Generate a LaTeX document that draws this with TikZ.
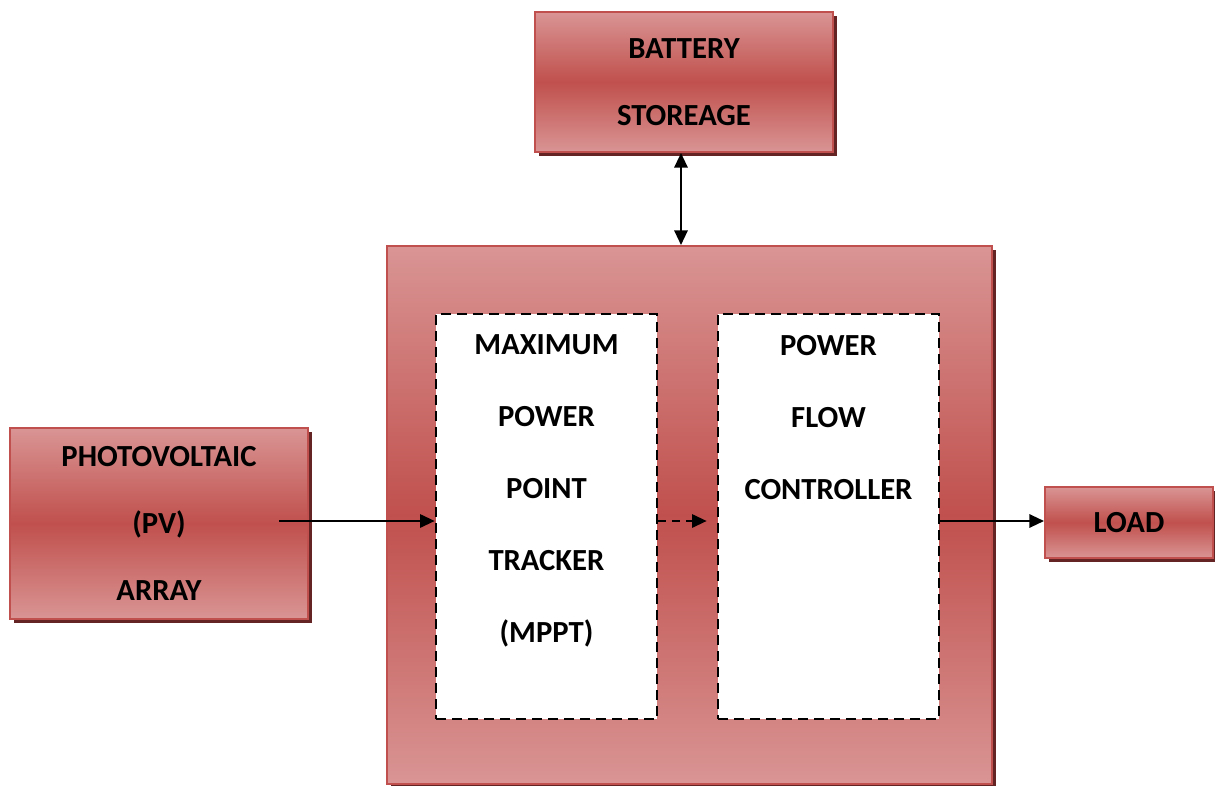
\documentclass[tikz,border=0pt]{standalone}
\usepackage{fontspec}
\setmainfont{Carlito}
\usetikzlibrary{positioning,shadows,arrows.meta}
\definecolor{boxtop}{HTML}{D99594}
\definecolor{boxmid}{HTML}{C0504D}
\definecolor{boxline}{HTML}{C0504D}
\definecolor{boxshadow}{HTML}{632423}

\begin{document}
\begin{tikzpicture}[x=0.75pt,y=-0.75pt,
    block/.style={draw=boxline, line width=1.5pt, top color=boxtop, bottom color=boxtop, middle color=boxmid,
      drop shadow={fill=boxshadow, opacity=1, shadow xshift=3pt, shadow yshift=-3pt},
      align=center, font=\fontsize{23}{50}\selectfont\bfseries, inner sep=0pt},
    innerblock/.style={draw=black, fill=white, line width=2pt, dash pattern=on 7.5pt off 4.5pt,
      minimum width=165.75pt, minimum height=303.75pt, inner sep=0pt},
    blocktext/.style={align=center, font=\fontsize{23}{54}\selectfont\bfseries, inner sep=0pt},
    flow/.style={line width=1.6pt, -{Triangle[length=11pt,width=10pt]}}]
    \useasboundingbox (0,0) rectangle (1215,786);
    % outer blocks
    \node (battery) [block, minimum width=223.5pt, minimum height=105pt] at (684,82) {BATTERY\\STOREAGE};
    \node (pv) [block, minimum width=223.5pt, minimum height=143.25pt] at (159,523.5) {PHOTOVOLTAIC\\(PV)\\ARRAY};
    \node (load) [block, minimum width=126pt, minimum height=53.25pt] at (1129,522.5) {LOAD};
    \node (unit) [block, minimum width=453.75pt, minimum height=403.5pt] at (689.5,515) {};
    % inner blocks
    \node (mppt) [innerblock] at (546.5,516.5) {};
    \node (pfc) [innerblock] at (828.5,516.5) {};
    \node (mppttext) [blocktext, below=16.5pt of mppt.north] {MAXIMUM\\POWER\\POINT\\TRACKER\\(MPPT)};
    \node (pfctext) [blocktext, below=16.5pt of pfc.north] {POWER\\FLOW\\CONTROLLER};
    % connectors
    \coordinate (pvout) at (279,521);
    \coordinate (pfcin) at ([xshift=-7.5pt]pfc.west);
    \draw [flow] (pvout) -- (pvout -| mppt.west);
    \draw [flow, dash pattern=on 6pt off 4.5pt] (pvout -| mppt.east) -- (pvout -| pfcin);
    \draw [flow] (pvout -| pfc.east) -- (pvout -| load.west);
    \draw [flow, {Triangle[length=11pt,width=10pt]}-{Triangle[length=11pt,width=10pt]}] ([xshift=-2.25pt]battery.south) -- ([xshift=-2.25pt]battery.south |- unit.north);
\end{tikzpicture}
\end{document}
